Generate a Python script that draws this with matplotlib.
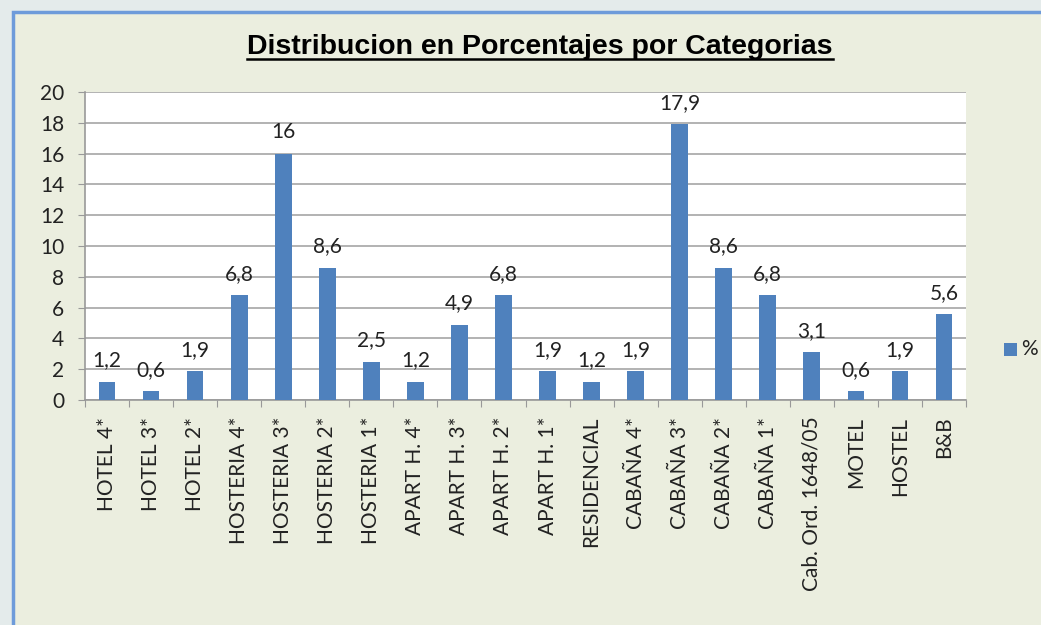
import matplotlib.pyplot as plt
from matplotlib.patches import Rectangle
from matplotlib.lines import Line2D

categorias = ["HOTEL 4*", "HOTEL 3*", "HOTEL 2*", "HOSTERIA 4*", "HOSTERIA 3*",
              "HOSTERIA 2*", "HOSTERIA 1*", "APART H. 4*", "APART H. 3*", "APART H. 2*",
              "APART H. 1*", "RESIDENCIAL", "CABAÑA 4*", "CABAÑA 3*", "CABAÑA 2*",
              "CABAÑA 1*", "Cab. Ord. 1648/05", "MOTEL", "HOSTEL", "B&B"]
porcentajes = [1.2, 0.6, 1.9, 6.8, 16, 8.6, 2.5, 1.2, 4.9, 6.8,
               1.9, 1.2, 1.9, 17.9, 8.6, 6.8, 3.1, 0.6, 1.9, 5.6]
yticks = list(range(0, 21, 2))

W, H = 1041, 625
fs = 15
fig = plt.figure(figsize=(W / 100, H / 100), dpi=100, facecolor="#E4EBEB")
fig.add_artist(Rectangle((13 / W, -0.05), 1.1, 1 - 12 / H + 0.05,
                         transform=fig.transFigure, facecolor="#EBEEDF",
                         edgecolor="#6E9BDA", linewidth=2.5, zorder=-10))

ax = fig.add_axes([85 / W, 1 - 400 / H, (966 - 85) / W, (400 - 92) / H])
x = list(range(len(categorias)))
bars = ax.bar(x, porcentajes, width=0.38, color="#4F81BD", zorder=3)

ax.set_xlim(-0.5, len(categorias) - 0.5)
ax.set_ylim(0, 20)
ax.set_yticks(yticks)
ax.set_yticklabels([str(t) for t in yticks], fontsize=fs, family="Lato", color="#222222")
ax.set_xticks([i - 0.5 for i in range(len(categorias) + 1)])
ax.set_xticklabels([])
ax.set_xticks(x, minor=True)
ax.set_xticklabels(categorias, minor=True, rotation=90, fontsize=fs, family="Lato", color="#222222")
ax.tick_params(axis="x", which="minor", length=0, pad=12)
ax.tick_params(axis="x", which="major", length=5, color="#999999")
ax.tick_params(axis="y", length=5, color="#999999", pad=10)
ax.grid(axis="y", color="#A6A6A6", linewidth=1.2, zorder=0)
for s in ["top", "right"]:
    ax.spines[s].set_visible(False)
for s in ["left", "bottom"]:
    ax.spines[s].set_color("#999999")
    ax.spines[s].set_linewidth(1.2)

for b, v in zip(bars, porcentajes):
    etiqueta = f"{v:g}".replace(".", ",")
    ax.annotate(etiqueta, (b.get_x() + b.get_width() / 2, v), xytext=(0, 8),
                textcoords="offset points", ha="center", va="bottom",
                fontsize=fs, family="Lato", color="#222222")

titulo = fig.text(540 / W, 1 - 47 / H, "Distribucion en Porcentajes por Categorias",
                  ha="center", va="center", fontsize=20.5, fontweight="bold",
                  family="Liberation Sans")
fig.canvas.draw()
bb = titulo.get_window_extent().transformed(fig.transFigure.inverted())
fig.add_artist(Line2D([bb.x0, bb.x1], [bb.y0 + 0.002, bb.y0 + 0.002],
                      transform=fig.transFigure, color="black", linewidth=1.8))

# leyenda
fig.add_artist(Rectangle((1004 / W, 1 - 356 / H), 13 / W, 13 / H,
                         transform=fig.transFigure, facecolor="#4F81BD"))
fig.text(1021 / W, 1 - 349 / H, "%", va="center", fontsize=fs, family="Lato", color="#222222")

fig.savefig("out.png", dpi=100, facecolor=fig.get_facecolor())
